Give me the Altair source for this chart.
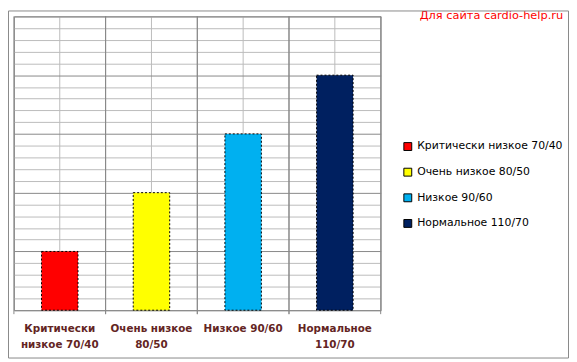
import altair as alt
import pandas as pd

categories = ["Критически низкое 70/40", "Очень низкое 80/50", "Низкое 90/60", "Нормальное 110/70"]
axis_labels = ["Критически|низкое 70/40", "Очень низкое|80/50", "Низкое 90/60", "Нормальное|110/70"]
values = [1, 2, 3, 4]
colors = ["#FF0000", "#FFFF00", "#00B0F0", "#002060"]
grid_values = [0, 0.2, 0.4, 0.6, 0.8, 1, 1.2, 1.4, 1.6, 1.8, 2, 2.2, 2.4, 2.6, 2.8,
               3, 3.2, 3.4, 3.6, 3.8, 4, 4.2, 4.4, 4.6, 4.8, 5]
title_text = "Для сайта cardio-help.ru"

df = pd.DataFrame({"cat": categories, "lab": axis_labels, "value": values})

MAJOR = "#888888"
MINOR = "#BBBBBB"

x_enc = alt.X(
    "lab:N",
    sort=axis_labels,
    scale=alt.Scale(paddingInner=0, paddingOuter=0),
    axis=alt.Axis(
        title=None, labelAngle=0, labelExpr="split(datum.label, '|')",
        grid=True, gridColor=MINOR, ticks=False, domain=False,
        labelColor="#632523", labelFontWeight="bold", labelFont="DejaVu Sans",
        labelFontSize=10.5, labelLineHeight=15.5, labelPadding=14, labelBaseline="top",
        labelAlign="center",
    ),
)
y_enc = alt.Y(
    "value:Q",
    scale=alt.Scale(domain=[0, 5], nice=False),
    axis=alt.Axis(
        title=None, labels=False, ticks=False, domain=False, values=grid_values,
        grid=True,
        gridColor={"condition": {"test": "abs(datum.value - round(datum.value)) < 0.001", "value": MAJOR}, "value": MINOR},
    ),
)

base = alt.Chart(df)

bounds_left = base.mark_rule(color=MAJOR, strokeWidth=1).encode(
    x=alt.X("lab:N", sort=axis_labels, bandPosition=0),
    y=alt.value(0),
    y2=alt.value(302),
)
bounds_right = base.mark_rule(color=MAJOR, strokeWidth=1).encode(
    x=alt.X("lab:N", sort=axis_labels, bandPosition=1),
    y=alt.value(0),
    y2=alt.value(302),
)

bars = base.mark_bar(size=37, stroke="black", strokeDash=[2, 2], strokeWidth=1).encode(
    x=x_enc,
    y=y_enc,
    color=alt.Color(
        "cat:N",
        scale=alt.Scale(domain=categories, range=colors),
        legend=alt.Legend(
            title=None, orient="none", legendX=394, legendY=126.5,
            symbolType="square", symbolSize=64, symbolStrokeColor="black",
            symbolStrokeWidth=1, labelFontSize=11, labelFont="DejaVu Sans",
            labelColor="black", rowPadding=13, labelLimit=300, labelOffset=4,
        ),
    ),
)

title = alt.Chart(pd.DataFrame({"t": [title_text]})).mark_text(
    align="right", baseline="top", color="#FF0000", font="DejaVu Sans", fontSize=11.5
).encode(x=alt.value(557), y=alt.value(-6), text="t:N")

border = alt.Chart(pd.DataFrame({"t": [title_text]})).mark_rect(
    filled=False, stroke=MAJOR, strokeWidth=1
).encode(x=alt.value(-5.5), x2=alt.value(562.5), y=alt.value(-5.5), y2=alt.value(346.5))

chart = alt.layer(bounds_left, bounds_right, bars, title, border).properties(
    width=372, height=298,
    autosize=alt.AutoSizeParams(type="none"),
    padding={"left": 6, "top": 6, "right": 191, "bottom": 49},
    background="white",
).configure_view(stroke=MAJOR, strokeWidth=1)

chart.save("out.html", embed_options={"renderer": "svg", "actions": False})
